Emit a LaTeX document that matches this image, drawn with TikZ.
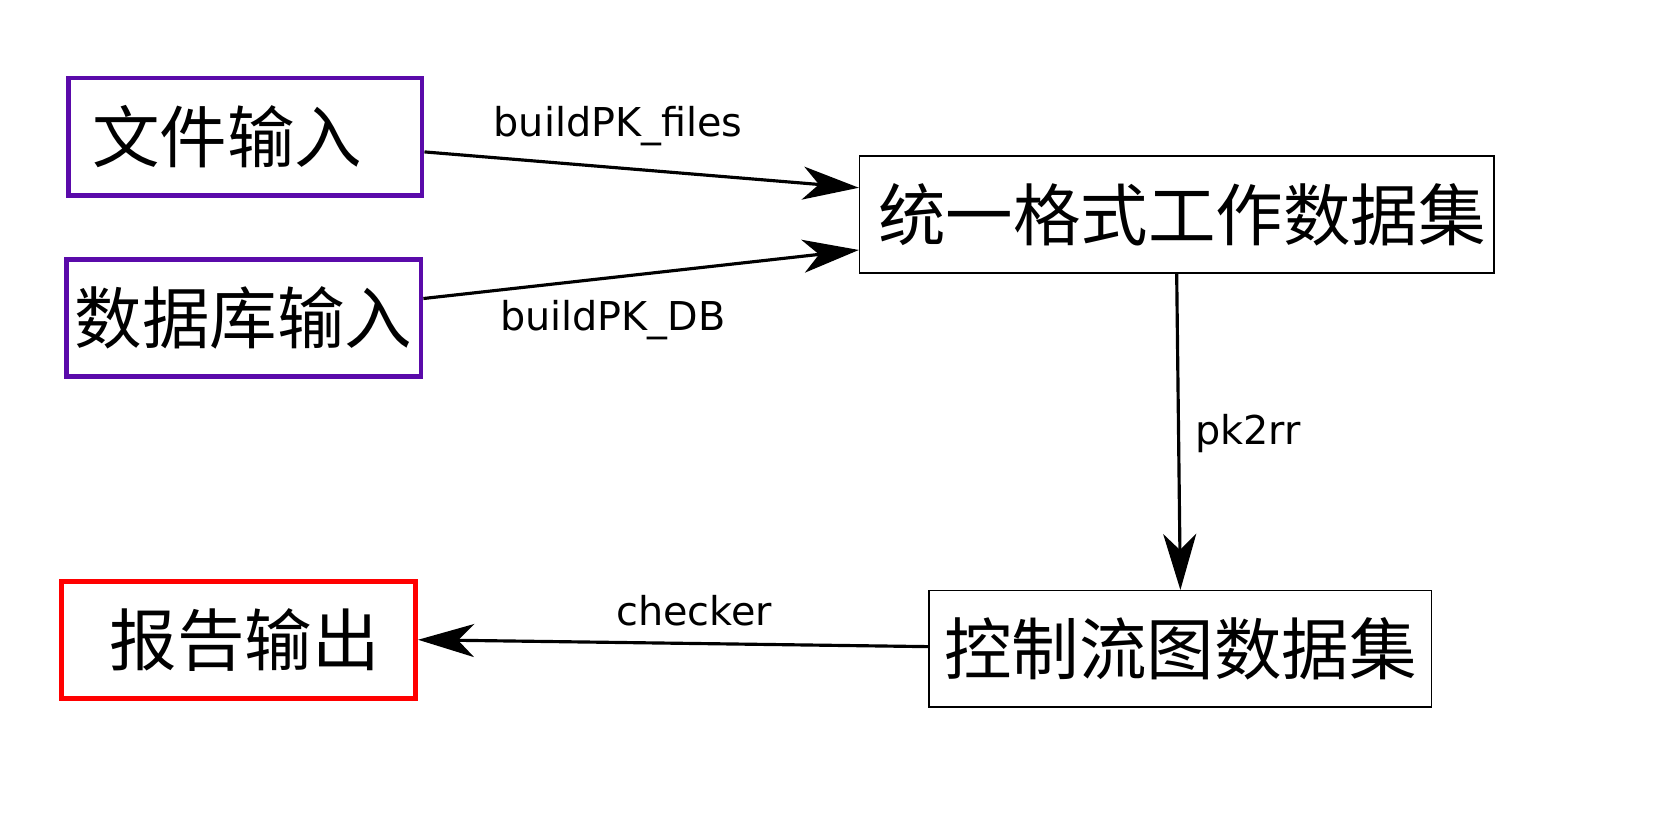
\documentclass[tikz,border=0pt]{standalone}
\usepackage{fontspec}
\setmainfont{DejaVu Sans}
\newfontfamily\cjk{Noto Sans CJK SC}
\usetikzlibrary{arrows.meta,calc}
\definecolor{inpurple}{RGB}{90,10,170}
\definecolor{outred}{RGB}{255,0,0}
\begin{document}
\begin{tikzpicture}[x=0.010548cm,y=-0.010548cm,
  box/.style={draw=black,line width=0.42pt,inner sep=0pt,font=\cjk\fontsize{19.2}{21}\selectfont},
  inbox/.style={box,draw=inpurple,line width=1.37pt},
  outbox/.style={box,draw=outred,line width=1.37pt},
  conn/.style={line width=0.9pt,-{Stealth[length=0.56cm,width=0.33cm,inset=0.16cm]}},
  lbl/.style={font=\fontsize{11.3}{13}\selectfont,inner sep=0pt}]
\useasboundingbox (0,0) rectangle (1568,784);
\fill[white] (0,0) rectangle (1568,784);
\node[inbox,minimum width=3.534cm,minimum height=1.171cm] (fin) at (232.5,129.5) {文件输入\kern0.36cm};
\node[inbox,minimum width=3.544cm,minimum height=1.171cm] (dbin) at (231,301.5) {数据库输入};
\node[box,minimum width=6.339cm,minimum height=1.171cm] (uni) at (1115.5,203.5) {\kern0.105cm统一格式工作数据集};
\node[box,minimum width=5.021cm,minimum height=1.160cm] (cfg) at (1119,615) {控制流图数据集};
\node[outbox,minimum width=3.544cm,minimum height=1.171cm] (rep) at (226,606.5) {\kern0.127cm报告输出};
\draw[conn] ([yshift=-0.153cm]fin.east) -- ([yshift=0.269cm]uni.west);
\draw[conn] ([yshift=0.195cm]dbin.east) -- ([yshift=-0.353cm]uni.west);
\draw[conn] (uni.south) -- (cfg.north);
\draw[conn] ([yshift=0.021cm]cfg.west) -- (rep.east);
\node[lbl] (l1) at (586,120) {buildPK\_files};
\node[lbl] (l2) at (581,303) {buildPK\_DB};
\node[lbl] (l3) at (1183,411) {pk2rr};
\node[lbl] (l4) at (658,579) {checker};
\end{tikzpicture}
\end{document}
